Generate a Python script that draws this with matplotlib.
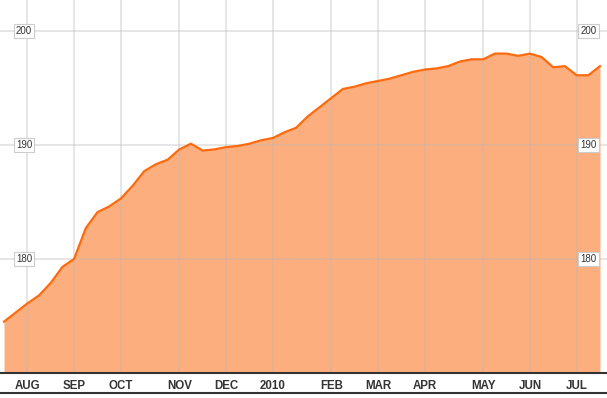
import matplotlib
matplotlib.use("Agg")
import matplotlib.pyplot as plt
from matplotlib.lines import Line2D
import numpy as np

# weekly values, one per week from late July 2009 to mid July 2010
values = [174.5, 175.3, 176.1, 176.8, 177.9, 179.3, 180.0, 182.7, 184.1, 184.6,
          185.3, 186.4, 187.7, 188.3, 188.7, 189.6, 190.1, 189.5, 189.6, 189.8,
          189.9, 190.1, 190.4, 190.6, 191.1, 191.5, 192.5, 193.3, 194.1, 194.9,
          195.1, 195.4, 195.6, 195.8, 196.1, 196.4, 196.6, 196.7, 196.9, 197.3,
          197.5, 197.5, 198.0, 198.0, 197.8, 198.0, 197.7, 196.8, 196.9, 196.1,
          196.1, 196.9]

# week index where each month label sits
month_weeks = [2, 6, 10, 15, 19, 23, 28, 32, 36, 41, 45, 49]
month_labels = ["AUG", "SEP", "OCT", "NOV", "DEC", "2010", "FEB", "MAR",
                "APR", "MAY", "JUN", "JUL"]

y_ticks = [180, 190, 200]
y_min, y_max = 170, 202.7

x = np.arange(len(values))

fig = plt.figure(figsize=(6.07, 3.98), dpi=100)
ax = fig.add_axes([0, 25 / 398, 1, 373 / 398])

ax.fill_between(x, values, y_min, color="#fdae7e", linewidth=0, zorder=1)
ax.plot(x, values, color="#ff6a0d", linewidth=1.6, zorder=2)

ax.set_xlim(-4 / 11.686, (607 - 4) / 11.686)
ax.set_ylim(y_min, y_max)

ax.set_axisbelow("line")
ax.set_xticks(month_weeks)
ax.set_xticklabels(month_labels, fontsize=8.3, fontweight="bold",
                   color="#333333", family="Liberation Sans")
ax.set_yticks(y_ticks)
ax.tick_params(axis="x", length=0, pad=5)
ax.tick_params(axis="y", length=0, labelleft=False)
ax.grid(True, color="#b8b8b8", alpha=0.35, linewidth=1.4)

for s in ["top", "left", "right"]:
    ax.spines[s].set_visible(False)
ax.spines["bottom"].set_color("#333333")
ax.spines["bottom"].set_linewidth(1.5)

# boxed y labels on both sides
trans = ax.get_yaxis_transform()
for v in y_ticks:
    for xa in (24 / 607, 588.5 / 607):
        ax.text(xa, v, str(v), transform=trans, ha="center", va="center",
                fontsize=7, color="#333333", family="Liberation Sans", zorder=3,
                bbox=dict(boxstyle="square,pad=0.2", facecolor="white",
                          edgecolor="#cccccc", linewidth=0.8))

fig.add_artist(Line2D([0, 1], [5 / 398, 5 / 398], color="#333333", linewidth=1.5,
                      transform=fig.transFigure))

fig.savefig("out.png", dpi=100)
